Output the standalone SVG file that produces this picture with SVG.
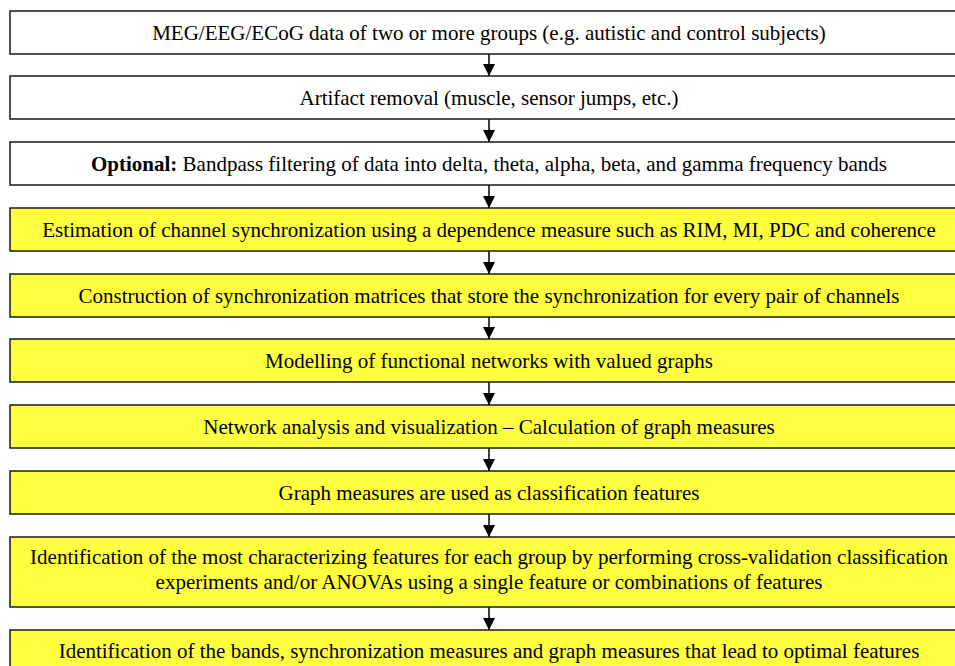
<svg xmlns="http://www.w3.org/2000/svg" width="955" height="666" viewBox="0 0 955 666">
<style>
.box{stroke:#1a1a1a;stroke-width:1.5}
.w{fill:#ffffff}
.y{fill:#ffff40}
text{font-family:"Liberation Serif","Times New Roman",serif;font-size:21px;fill:#000;text-anchor:middle}
.arrow{stroke:#000;stroke-width:1.5;fill:none}
</style>
<defs>
<marker id="ah" viewBox="0 0 12 12" refX="12" refY="6" markerWidth="12" markerHeight="12" markerUnits="userSpaceOnUse" orient="auto">
<path d="M0,0 L12,6 L0,12 Z" fill="#000"/>
</marker>
</defs>
<rect x="0" y="0" width="955" height="666" fill="#fff"/>
<g id="connectors">
<line class="arrow" x1="489" y1="54" x2="489" y2="76" marker-end="url(#ah)"/>
<line class="arrow" x1="489" y1="119" x2="489" y2="142" marker-end="url(#ah)"/>
<line class="arrow" x1="489" y1="185" x2="489" y2="208" marker-end="url(#ah)"/>
<line class="arrow" x1="489" y1="251" x2="489" y2="274" marker-end="url(#ah)"/>
<line class="arrow" x1="489" y1="317" x2="489" y2="339" marker-end="url(#ah)"/>
<line class="arrow" x1="489" y1="382" x2="489" y2="405" marker-end="url(#ah)"/>
<line class="arrow" x1="489" y1="448" x2="489" y2="471" marker-end="url(#ah)"/>
<line class="arrow" x1="489" y1="514" x2="489" y2="537" marker-end="url(#ah)"/>
<line class="arrow" x1="489" y1="607" x2="489" y2="630" marker-end="url(#ah)"/>
</g>
<g id="n1"><rect class="box w" x="10" y="11" width="960" height="43"/><text x="489" y="40">MEG/EEG/ECoG data of two or more groups (e.g. autistic and control subjects)</text></g>
<g id="n2"><rect class="box w" x="10" y="76" width="960" height="43"/><text x="489" y="105">Artifact removal (muscle, sensor jumps, etc.)</text></g>
<g id="n3"><rect class="box w" x="10" y="142" width="960" height="43"/><text x="489" y="171"><tspan font-weight="bold">Optional:</tspan> Bandpass filtering of data into delta, theta, alpha, beta, and gamma frequency bands</text></g>
<g id="n4"><rect class="box y" x="10" y="208" width="960" height="43"/><text x="489" y="237">Estimation of channel synchronization using a dependence measure such as RIM, MI, PDC and coherence</text></g>
<g id="n5"><rect class="box y" x="10" y="274" width="960" height="43"/><text x="489" y="303">Construction of synchronization matrices that store the synchronization for every pair of channels</text></g>
<g id="n6"><rect class="box y" x="10" y="339" width="960" height="43"/><text x="489" y="368">Modelling of functional networks with valued graphs</text></g>
<g id="n7"><rect class="box y" x="10" y="405" width="960" height="43"/><text x="489" y="434">Network analysis and visualization – Calculation of graph measures</text></g>
<g id="n8"><rect class="box y" x="10" y="471" width="960" height="43"/><text x="489" y="500">Graph measures are used as classification features</text></g>
<g id="n9"><rect class="box y" x="10" y="537" width="960" height="70"/><text x="489" y="564">Identification of the most characterizing features for each group by performing cross-validation classification</text><text x="489" y="589">experiments and/or ANOVAs using a single feature or combinations of features</text></g>
<g id="n10"><rect class="box y" x="10" y="630" width="960" height="43"/><text x="489" y="658">Identification of the bands, synchronization measures and graph measures that lead to optimal features</text></g>
</svg>
